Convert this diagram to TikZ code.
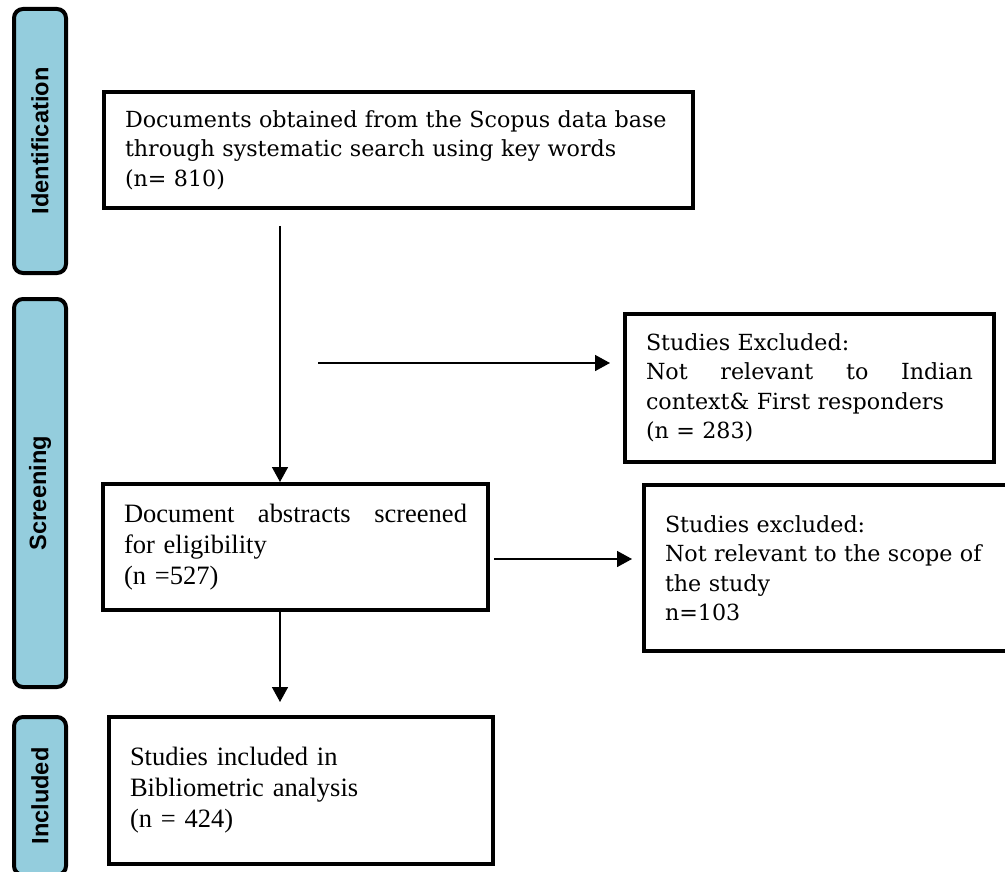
\documentclass[tikz,border=0pt]{standalone}
\usepackage{fontspec}
\setmainfont{Liberation Serif}
\newfontfamily\cambriafont{DejaVu Serif}
\newfontfamily\phasefont{Liberation Sans}
\usetikzlibrary{arrows.meta, positioning, calc}
\definecolor{barblue}{RGB}{148,205,221}
\newcommand{\bodytext}{\fontsize{26.5}{31}\selectfont}
\newcommand{\notetext}{\cambriafont\fontsize{22.2}{29.5}\selectfont}
\newcommand{\phasetext}{\phasefont\bfseries\fontsize{23.6}{26}\selectfont}
\newcommand{\spreadline}[2]{\leavevmode\hbox to #1{#2}}
\tikzset{>={Triangle[length=15pt,width=16pt]}}

\begin{document}
\begin{tikzpicture}[x=1pt, y=-1pt,
	phase/.style={draw=black, line width=4pt, fill=barblue, rounded corners=9pt, rotate=90, minimum height=52pt, inner sep=0pt, font=\phasetext},
	stagebox/.style={draw=black, line width=4pt, inner xsep=21pt, inner ysep=0pt, align=left},
	flow/.style={->, line width=1.6pt}]

	\useasboundingbox (0,0) rectangle (1005,872);

	% phases on the left
	\node [phase, minimum width=264pt] (ident) at (40,141) {Identification};
	\node [phase, minimum width=388pt] (screen) at (40,493) {Screening};
	\node [phase, minimum width=158pt] (incl) at (40,796) {Included};

	% boxes
	\node [stagebox, font=\notetext, text width=547pt, minimum width=589pt, minimum height=116pt] (found) at (398.5,150)
		{Documents obtained from the Scopus data base\\through systematic search using key words\\(n= 810)};
	\node [stagebox, font=\notetext, text width=327pt, minimum width=369pt, minimum height=148pt] (excl1) at (809.5,388)
		{Studies Excluded:\\\spreadline{327pt}{Not\hfill relevant\hfill to\hfill Indian}\\context\& First responders\\(n = 283)};
	\node [stagebox, font=\bodytext, text width=343pt, minimum width=385pt, minimum height=126pt] (abstr) at (295.5,547)
		{\spreadline{343pt}{Document\hfill abstracts\hfill screened}\\for eligibility\\(n =527)};
	\node [stagebox, font=\notetext, text width=345pt, minimum width=387pt, minimum height=166pt] (excl2) at (837.5,568)
		{Studies excluded:\\Not relevant to the scope of\\the study\\n=103};
	\node [stagebox, font=\bodytext, text width=342pt, minimum width=384pt, minimum height=147pt] (final) at (301,790.5)
		{Studies included in\\Bibliometric analysis\\(n = 424)};

	% arrows
	\coordinate (down) at (280,226);
	\coordinate (side) at (318,363);
	\coordinate (out) at (494,559);
	\draw [flow] (down) -- (down |- abstr.north);
	\draw [flow, shorten >=13pt] (side) -- (side -| excl1.west);
	\draw [flow, shorten >=10pt] (out) -- (out -| excl2.west);
	\draw [flow, shorten >=13pt] (down |- abstr.south) -- (down |- final.north);
\end{tikzpicture}
\end{document}
